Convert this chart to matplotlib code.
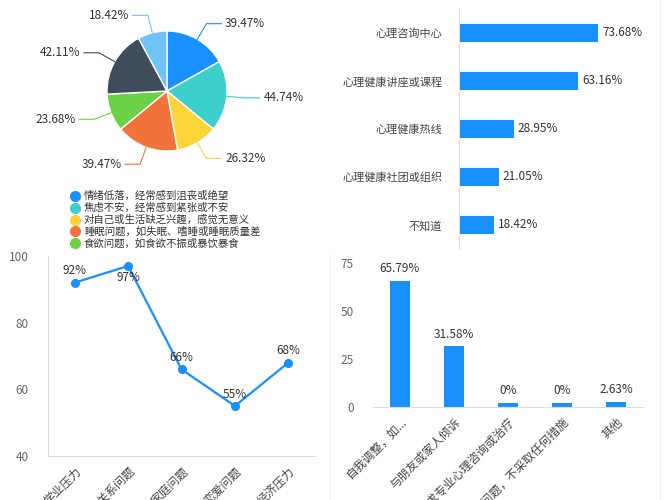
import numpy as np
import matplotlib
matplotlib.use("Agg")
import matplotlib.pyplot as plt
from matplotlib.lines import Line2D

plt.rcParams['font.family'] = ['Noto Sans CJK SC', 'DejaVu Sans']

W, H = 667, 500
fig = plt.figure(figsize=(W/100, H/100), dpi=100)

def ax_px(l, t, w, h):
    return fig.add_axes([l/W, 1-(t+h)/H, w/W, h/H])

BLUE = '#1890ff'
GRAY = '#666666'

# ---------------- data ----------------
pie_values = [39.47, 44.74, 26.32, 39.47, 23.68, 42.11, 18.42]
pie_colors = ['#1890ff', '#3ccfcb', '#fbd437', '#f2723c', '#6bd146', '#3f4d5c', '#6fc3f5']
legend_labels = ['情绪低落，经常感到沮丧或绝望', '焦虑不安，经常感到紧张或不安',
                 '对自己或生活缺乏兴趣，感觉无意义', '睡眠问题，如失眠、嗜睡或睡眠质量差',
                 '食欲问题，如食欲不振或暴饮暴食']

hbar_cats = ['心理咨询中心', '心理健康讲座或课程', '心理健康热线', '心理健康社团或组织', '不知道']
hbar_vals = [73.68, 63.16, 28.95, 21.05, 18.42]

line_cats = ['学业压力', '人际关系问题', '家庭问题', '恋爱问题', '经济压力']
line_vals = [92, 97, 66, 55, 68]

bar_cats = ['自我调整，如...', '与朋友或家人倾诉', '寻求专业心理咨询或治疗', '忽视问题，不采取任何措施', '其他']
bar_vals = [65.79, 31.58, 0, 0, 2.63]

# ---------------- pie ----------------
ax = ax_px(107, 31, 120, 120)
wedges, _ = ax.pie(pie_values, colors=pie_colors, startangle=90, counterclock=False,
                   wedgeprops=dict(edgecolor='white', linewidth=1))
ax.set_xlim(-1, 1); ax.set_ylim(-1, 1)
for wdg, v, c in zip(wedges, pie_values, pie_colors):
    ang = np.deg2rad((wdg.theta1 + wdg.theta2) / 2)
    x, y = np.cos(ang), np.sin(ang)
    ex, ey = 1.3 * x, 1.3 * y
    side = 1 if x >= 0 else -1
    tx = ex + side * 0.25
    ax.plot([x, ex, tx], [y, ey, ey], color=c, lw=0.8, clip_on=False)
    ax.text(tx + side * 0.06, ey, f'{v:.2f}%', ha='left' if side > 0 else 'right',
            va='center', fontsize=8.5, color='#333333')

# legend
for i, (lab, c) in enumerate(zip(legend_labels, pie_colors)):
    y = 196 + i * 11.8
    fig.add_artist(Line2D([75/W], [1 - y/H], marker='o', color=c, markersize=7, linestyle=''))
    fig.text(84/W, 1 - y/H, lab, fontsize=7.5, color='#333333', va='center')

# ---------------- horizontal bar ----------------
ax = ax_px(459, 9, 189, 240)
yy = np.arange(len(hbar_cats))
ax.barh(yy, hbar_vals, height=0.37, color=BLUE)
ax.set_ylim(len(hbar_cats) - 0.5, -0.5)
ax.set_xlim(0, 100)
ax.set_yticks(yy)
ax.set_yticklabels(hbar_cats, fontsize=8, color='#444444')
ax.tick_params(axis='y', length=0, pad=12)
ax.set_xticks([])
for s in ['top', 'right', 'bottom']:
    ax.spines[s].set_visible(False)
ax.spines['left'].set_color('#dddddd')
for y, v in zip(yy, hbar_vals):
    ax.text(v + 2, y, f'{v:.2f}%', va='center', ha='left', fontsize=8.5, color='#333333')

# ---------------- line chart ----------------
ax = ax_px(48, 256, 267, 200)
xx = np.arange(len(line_cats))
ax.plot(xx, line_vals, color=BLUE, lw=1.6, marker='o', markersize=5.5)
ax.set_xlim(-0.5, len(line_cats) - 0.5)
ax.set_ylim(40, 100)
ax.set_yticks([40, 60, 80, 100])
ax.tick_params(axis='y', length=0, labelsize=8.5, labelcolor=GRAY, pad=14)
ax.set_xticks(xx)
ax.set_xticklabels(line_cats, rotation=45, ha='right', rotation_mode='anchor',
                   fontsize=8.5, color='#444444')
ax.tick_params(axis='x', length=0, pad=6)
for s in ['top', 'right']:
    ax.spines[s].set_visible(False)
ax.spines['left'].set_color('#dddddd')
ax.spines['bottom'].set_color('#dddddd')
for x, v in zip(xx, line_vals):
    dy = -3.5 if x == 1 else 3.5
    ax.text(x, v + dy, f'{v}%', ha='center', va='center', fontsize=8.5, color='#333333')

# ---------------- vertical bar ----------------
ax = ax_px(373, 263, 270, 144)
xx = np.arange(len(bar_cats))
vals_drawn = [max(v, 2.2) for v in bar_vals]
ax.bar(xx, vals_drawn, width=0.37, color=BLUE)
ax.set_xlim(-0.5, len(bar_cats) - 0.5)
ax.set_ylim(0, 75)
ax.set_yticks([0, 25, 50, 75])
ax.tick_params(axis='y', length=0, labelsize=8.5, labelcolor=GRAY, pad=14)
ax.set_xticks(xx)
ax.set_xticklabels(bar_cats, rotation=45, ha='right', rotation_mode='anchor',
                   fontsize=8.5, color='#444444')
ax.tick_params(axis='x', length=0, pad=6)
for s in ['top', 'right']:
    ax.spines[s].set_visible(False)
ax.spines['left'].set_visible(False)
ax.spines['bottom'].set_color('#dddddd')
for x, v, d in zip(xx, bar_vals, vals_drawn):
    ax.text(x, d + 3, f'{v:g}%' if v == 0 else f'{v:.2f}%', ha='center', va='bottom',
            fontsize=8.5, color='#333333')

# separators
fig.add_artist(Line2D([660/W, 660/W], [1 - 0/H, 1 - 500/H], color='#eeeeee', lw=0.8))
fig.add_artist(Line2D([330/W, 330/W], [1 - 255/H, 1 - 500/H], color='#eeeeee', lw=0.8))

fig.savefig('out.png', dpi=100)
